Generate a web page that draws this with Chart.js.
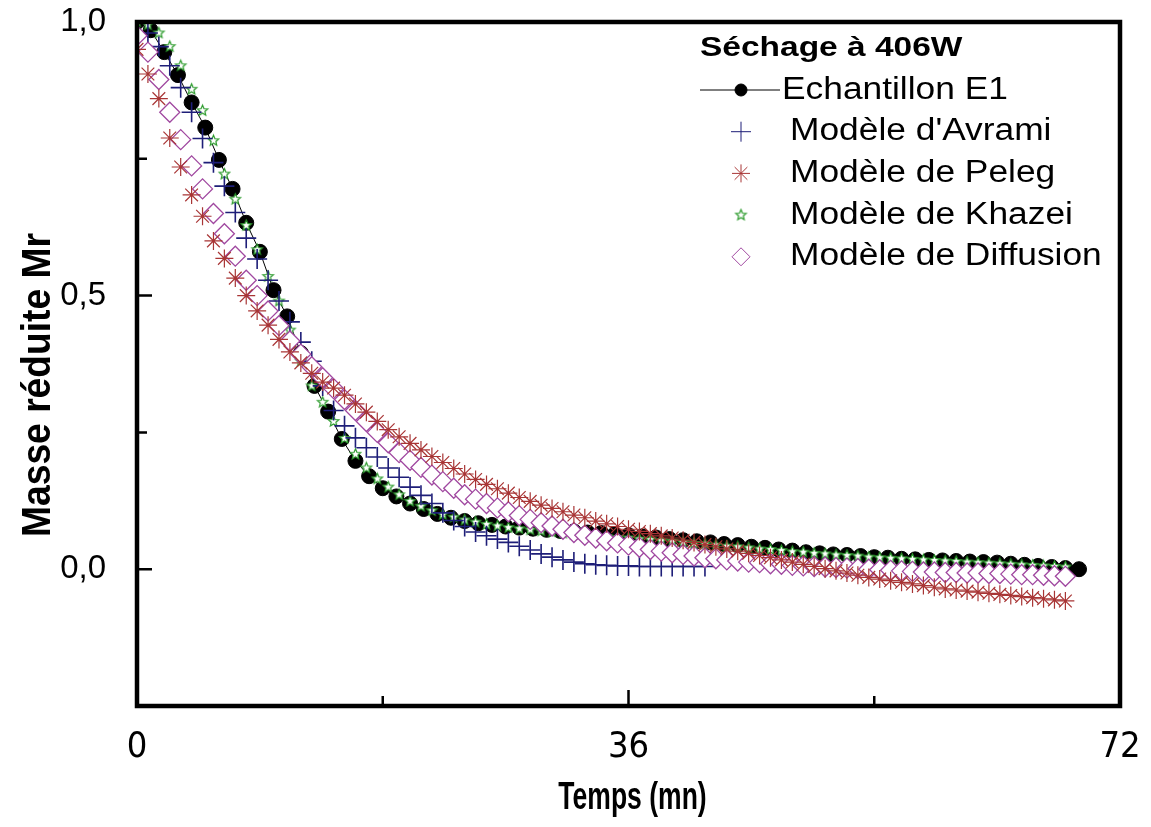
<!DOCTYPE html>
<html>
<head>
<meta charset="utf-8">
<script src="https://cdn.jsdelivr.net/npm/chart.js@4.4.0/dist/chart.umd.min.js"></script>
<style>
  html, body { margin: 0; background: #fff; }
</style>
</head>
<body>
<canvas id="c" width="1151" height="827"></canvas>
<script>
// temps (mn) des mesures et des modèles
const tE1 = [0,1,2,3,4,5,6,7,8,9,10,11,12,13,14,15,16,17,18,19,20,21,22,23,24,25,26,27,28,29,30,31,32,33,34,35,36,37,38,39,40,41,42,43,44,45,46,47,48,49,50,51,52,53,54,55,56,57,58,59,60,61,62,63,64,65,66,67,68,69];
const tModel = [0,0.8,1.6,2.4,3.2,4,4.8,5.6,6.4,7.2,8,8.8,9.6,10.4,11.2,12,12.8,13.6,14.4,15.2,16,16.8,17.6,18.4,19.2,20,20.8,21.6,22.4,23.2,24,24.8,25.6,26.4,27.2,28,28.8,29.6,30.4,31.2,32,32.8,33.6,34.4,35.2,36,36.8,37.6,38.4,39.2,40,40.8,41.6,42.4,43.2,44,44.8,45.6,46.4,47.2,48,48.8,49.6,50.4,51.2,52,52.8,53.6,54.4,55.2,56,56.8,57.6,58.4,59.2,60,60.8,61.6,62.4,63.2,64,64.8,65.6,66.4,67.2,68];

// masse réduite Mr
const echantillonE1 = [1.0,0.985,0.945,0.903,0.853,0.807,0.748,0.695,0.633,0.58,0.51,0.462,0.395,0.335,0.288,0.238,0.198,0.17,0.148,0.133,0.12,0.11,0.101,0.094,0.088,0.084,0.081,0.078,0.076,0.074,0.072,0.07,0.069,0.067,0.066,0.064,0.062,0.06,0.058,0.055,0.053,0.051,0.049,0.046,0.044,0.041,0.039,0.036,0.034,0.031,0.029,0.027,0.026,0.024,0.022,0.021,0.019,0.018,0.017,0.016,0.015,0.014,0.013,0.012,0.01,0.008,0.006,0.004,0.002,0.0];
const avrami = [1.0,0.98,0.955,0.92,0.88,0.835,0.787,0.743,0.7,0.652,0.605,0.567,0.528,0.49,0.452,0.415,0.38,0.335,0.29,0.262,0.24,0.222,0.205,0.185,0.168,0.15,0.135,0.12,0.103,0.089,0.078,0.068,0.061,0.055,0.049,0.042,0.035,0.028,0.022,0.017,0.013,0.01,0.008,0.007,0.006,0.006,0.005,0.005,0.005,0.005,0.005,0.005,0.005];
const peleg = [0.95,0.905,0.86,0.788,0.735,0.684,0.645,0.6,0.568,0.532,0.5,0.472,0.446,0.42,0.397,0.377,0.358,0.342,0.331,0.318,0.302,0.287,0.27,0.255,0.242,0.23,0.218,0.206,0.195,0.184,0.174,0.164,0.155,0.147,0.139,0.131,0.124,0.117,0.111,0.105,0.099,0.094,0.088,0.083,0.078,0.073,0.069,0.065,0.061,0.057,0.053,0.049,0.045,0.041,0.037,0.033,0.029,0.025,0.021,0.017,0.013,0.009,0.005,0.001,-0.003,-0.007,-0.011,-0.015,-0.018,-0.021,-0.024,-0.027,-0.03,-0.033,-0.036,-0.038,-0.04,-0.042,-0.044,-0.046,-0.048,-0.05,-0.052,-0.054,-0.056,-0.058];
const khazei = [1.0,0.995,0.98,0.955,0.92,0.877,0.838,0.783,0.722,0.676,0.628,0.584,0.535,0.49,0.437,0.38,0.335,0.305,0.27,0.239,0.21,0.185,0.165,0.15,0.136,0.124,0.115,0.107,0.1,0.095,0.09,0.086,0.082,0.079,0.076,0.074,0.072,0.07,0.068,0.066,0.064,0.063,0.061,0.06,0.058,0.057,0.055,0.054,0.052,0.051,0.049,0.047,0.046,0.044,0.042,0.041,0.039,0.037,0.036,0.034,0.032,0.031,0.029,0.028,0.026,0.025,0.024,0.022,0.021,0.02,0.019,0.018,0.017,0.016,0.015,0.014,0.013,0.012,0.011,0.01,0.009,0.008,0.007,0.006,0.005,0.004];
const diffusion = [0.975,0.945,0.895,0.835,0.785,0.737,0.695,0.65,0.613,0.572,0.528,0.5,0.472,0.445,0.417,0.393,0.37,0.35,0.33,0.31,0.29,0.27,0.25,0.231,0.213,0.199,0.186,0.172,0.16,0.148,0.136,0.128,0.12,0.112,0.105,0.098,0.091,0.085,0.079,0.073,0.067,0.062,0.057,0.052,0.048,0.044,0.04,0.036,0.033,0.03,0.027,0.024,0.021,0.019,0.017,0.015,0.013,0.012,0.01,0.009,0.007,0.006,0.005,0.004,0.003,0.002,0.001,0,-0.001,-0.002,-0.003,-0.004,-0.005,-0.005,-0.006,-0.006,-0.007,-0.007,-0.008,-0.008,-0.009,-0.01,-0.01,-0.011,-0.012,-0.013];

const legendTitle = 'Séchage à 406W';
const xTitle = 'Temps (mn)';
const yTitle = 'Masse réduite Mr';

const pts = (xs, ys) => ys.map((v, i) => ({ x: xs[i], y: v }));

// petite étoile à 5 branches pour Khazei
function starImg(r, color) {
  const c = document.createElement('canvas');
  const s = Math.ceil(r * 2 + 4);
  c.width = c.height = s;
  const g = c.getContext('2d');
  g.beginPath();
  for (let i = 0; i < 10; i++) {
    const a = -Math.PI / 2 + i * Math.PI / 5;
    const rr = i % 2 ? r * 0.45 : r;
    g.lineTo(s / 2 + rr * Math.cos(a), s / 2 + rr * Math.sin(a));
  }
  g.closePath();
  g.fillStyle = '#fff';
  g.fill();
  g.strokeStyle = color;
  g.lineWidth = 1.2;
  g.stroke();
  return c;
}
const star = starImg(5.5, '#2a9a2a');

const isMajor = (v, step) => Math.abs(v / step - Math.round(v / step)) < 1e-6;

// cadre + graduations vers l'intérieur
const frame = {
  id: 'frame',
  afterDatasetsDraw(chart) {
    const { ctx, chartArea: a, scales: { x, y } } = chart;
    ctx.save();
    ctx.strokeStyle = '#000';
    ctx.lineWidth = 2.5;
    ctx.beginPath();
    y.ticks.forEach(t => {
      const py = y.getPixelForValue(t.value);
      const len = isMajor(t.value, 0.5) ? 15 : 10;
      ctx.moveTo(a.left, py);
      ctx.lineTo(a.left + len, py);
    });
    x.ticks.forEach(t => {
      const px = x.getPixelForValue(t.value);
      const len = isMajor(t.value, 36) ? 16 : 10;
      ctx.moveTo(px, a.bottom);
      ctx.lineTo(px, a.bottom - len);
    });
    ctx.stroke();
    ctx.lineWidth = 4.5;
    ctx.strokeRect(a.left, a.top, a.right - a.left, a.bottom - a.top);
    ctx.restore();
  }
};

// titres des axes (police étroite et grasse)
const axisTitles = {
  id: 'axisTitles',
  afterDraw(chart) {
    const { ctx, chartArea: a } = chart;
    ctx.save();
    ctx.fillStyle = '#000';
    ctx.textAlign = 'center';
    ctx.textBaseline = 'middle';
    ctx.font = 'bold 39px "Liberation Sans", Arial, sans-serif';
    ctx.save();
    ctx.translate((a.left + a.right) / 2 + 4, 798);
    ctx.scale(0.68, 1);
    ctx.fillText(xTitle, 0, 0);
    ctx.restore();
    ctx.font = 'bold 40px "Liberation Sans", Arial, sans-serif';
    ctx.save();
    ctx.translate(39, (a.top + a.bottom) / 2 + 21);
    ctx.rotate(-Math.PI / 2);
    ctx.scale(0.93, 1);
    ctx.fillText(yTitle, 0, 0);
    ctx.restore();
    ctx.restore();
  }
};

// légende dans la zone de tracé
const legendBox = {
  id: 'legendBox',
  afterDraw(chart) {
    const { ctx, chartArea: a } = chart;
    const x0 = a.left + 563;
    ctx.save();
    ctx.fillStyle = '#000';
    ctx.textBaseline = 'middle';
    ctx.font = 'bold 27px "Liberation Sans", Arial, sans-serif';
    ctx.save();
    ctx.translate(x0, a.top + 27);
    ctx.scale(1.24, 1);
    ctx.fillText(legendTitle, 0, 0);
    ctx.restore();

    ctx.font = '31px "Liberation Sans", Arial, sans-serif';
    chart.data.datasets.forEach((ds, i) => {
      const yy = a.top + 68 + i * 41.7;
      const mx = x0 + 41;
      if (i === 0) {
        ctx.strokeStyle = '#000';
        ctx.lineWidth = 1;
        ctx.beginPath();
        ctx.moveTo(x0, yy);
        ctx.lineTo(x0 + 80, yy);
        ctx.stroke();
      }
      ctx.strokeStyle = ds.pointBorderColor;
      ctx.fillStyle = ds.pointBackgroundColor;
      Chart.helpers.drawPoint(ctx, {
        pointStyle: ds.pointStyle,
        radius: ds.legendRadius,
        rotation: 0,
        borderWidth: ds.pointBorderWidth
      }, mx, yy);
      ctx.fillStyle = '#000';
      ctx.save();
      ctx.translate(i === 0 ? x0 + 82 : x0 + 90, yy);
      ctx.scale(1.14, 1);
      ctx.fillText(ds.label, 0, 0);
      ctx.restore();
    });
    ctx.restore();
  }
};

new Chart(document.getElementById('c'), {
  type: 'scatter',
  data: {
    datasets: [
      {
        label: 'Echantillon E1',
        data: pts(tE1, echantillonE1),
        showLine: true,
        borderColor: '#000',
        borderWidth: 1,
        pointStyle: 'circle',
        pointRadius: 7.5,
        legendRadius: 6,
        pointBackgroundColor: '#000',
        pointBorderColor: '#000',
        pointBorderWidth: 1,
        order: 5
      },
      {
        label: "Modèle d'Avrami",
        data: pts(tModel, avrami),
        pointStyle: 'cross',
        pointRadius: 10,
        legendRadius: 10,
        pointBorderColor: '#1e1e78',
        pointBackgroundColor: '#1e1e78',
        pointBorderWidth: 1.6,
        order: 3
      },
      {
        label: 'Modèle de Peleg',
        data: pts(tModel, peleg),
        pointStyle: 'star',
        pointRadius: 9,
        legendRadius: 9,
        pointBorderColor: '#a83535',
        pointBackgroundColor: '#a83535',
        pointBorderWidth: 1.2,
        order: 1
      },
      {
        label: 'Modèle de Khazei',
        data: pts(tModel, khazei),
        pointStyle: star,
        pointRadius: 6,
        legendRadius: 6,
        pointBorderColor: '#2a9a2a',
        pointBackgroundColor: '#fff',
        pointBorderWidth: 1,
        order: 4
      },
      {
        label: 'Modèle de Diffusion',
        data: pts(tModel, diffusion),
        pointStyle: 'rectRot',
        pointRadius: 10,
        legendRadius: 9,
        pointBorderColor: '#a048a0',
        pointBackgroundColor: '#fff',
        pointBorderWidth: 1.3,
        order: 2
      }
    ]
  },
  options: {
    responsive: false,
    devicePixelRatio: 1,
    animation: false,
    layout: { padding: { left: 0, right: 31, top: 22, bottom: 0 } },
    plugins: { legend: { display: false }, tooltip: { enabled: false } },
    scales: {
      x: {
        type: 'linear',
        min: 0,
        max: 72,
        grid: { display: false },
        border: { display: false },
        ticks: {
          stepSize: 18,
          padding: 12,
          color: '#000',
          maxRotation: 0,
          font: { family: '"DejaVu Sans Condensed", "Liberation Sans", Arial, sans-serif', size: 36 },
          callback: v => isMajor(v, 36) ? String(v) : ''
        },
        afterFit: s => { s.height = 121; s.paddingLeft = 0; s.paddingRight = 0; }
      },
      y: {
        min: -0.25,
        max: 1.0,
        grid: { display: false },
        border: { display: false },
        ticks: {
          stepSize: 0.25,
          padding: 23,
          color: '#000',
          font: { family: '"Liberation Sans", Arial, sans-serif', size: 33 },
          callback: v => isMajor(v, 0.5) ? v.toFixed(1).replace('.', ',') : ''
        },
        afterFit: s => { s.width = 137; s.paddingTop = 0; s.paddingBottom = 0; }
      }
    }
  },
  plugins: [frame, axisTitles, legendBox]
});
</script>
</body>
</html>
